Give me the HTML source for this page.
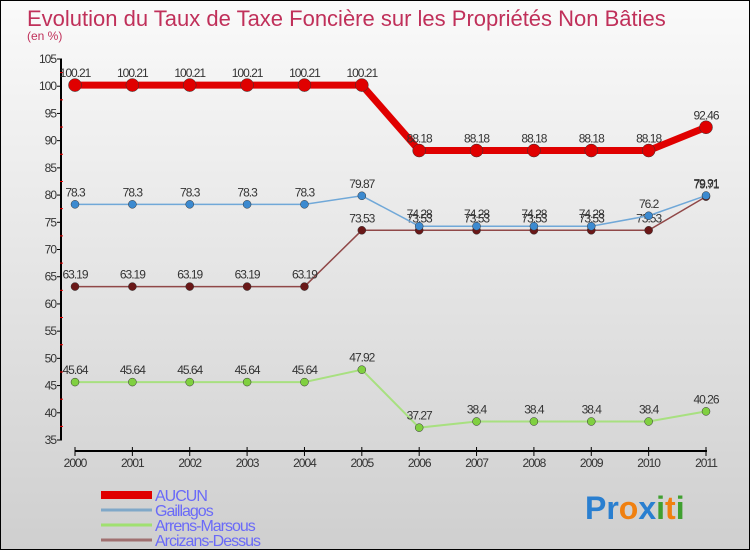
<!DOCTYPE html>
<html><head><meta charset="utf-8"><style>
html,body{margin:0;padding:0}
body{width:750px;height:550px;overflow:hidden;font-family:"Liberation Sans",sans-serif}
#wrap{position:relative;width:748px;height:548px;border:1px solid #000;background:linear-gradient(#fafafa,#cfcfcf)}
</style></head><body>
<div id="wrap">
<svg id="chart" width="748" height="548">
<text x="26" y="25" font-size="22" fill="#c0305a">Evolution du Taux de Taxe Foncière sur les Propriétés Non Bâties</text>
<text x="26" y="39" font-size="12" fill="#c0305a">(en %)</text>
<g id="axes"></g><g id="series"></g><g id="legend"></g>
<text x="584" y="518" font-size="32" font-weight="bold"><tspan fill="#2a7fd0">Pr</tspan><tspan fill="#f08010">o</tspan><tspan fill="#2a7fd0">x</tspan><tspan fill="#40a030">i</tspan><tspan fill="#f08010">t</tspan><tspan fill="#40a030">i</tspan></text>
</svg></div>
<script>
const years=[2000,2001,2002,2003,2004,2005,2006,2007,2008,2009,2010,2011];
const aucun=[100.21,100.21,100.21,100.21,100.21,100.21,88.18,88.18,88.18,88.18,88.18,92.46];
const gaillagos=[78.3,78.3,78.3,78.3,78.3,79.87,74.28,74.28,74.28,74.28,76.2,79.91];
const arrens=[45.64,45.64,45.64,45.64,45.64,47.92,37.27,38.4,38.4,38.4,38.4,40.26];
const arcizans=[63.19,63.19,63.19,63.19,63.19,73.53,73.53,73.53,73.53,73.53,73.53,79.71];
const yTicks=[35,40,45,50,55,60,65,70,75,80,85,90,95,100,105];
const NS="http://www.w3.org/2000/svg";
const xs=i=>74+i*(631/(years.length-1));
const ys=v=>439-(v-35)*(381/70);
function mk(tag,attrs,parent,text){const e=document.createElementNS(NS,tag);for(const k in attrs)e.setAttribute(k,attrs[k]);if(text!==undefined)e.textContent=text;parent.appendChild(e);return e;}
const ax=document.getElementById('axes');
let yl=mk('line',{x1:60,y1:ys(105),x2:60,y2:ys(35),stroke:'#000','stroke-width':2},ax);


yTicks.forEach((t,i)=>{
 mk('line',{x1:56,y1:ys(t),x2:61,y2:ys(t),stroke:'#000'},ax);
 if(i<yTicks.length-1)mk('line',{x1:59,y1:ys(t+2.5),x2:62,y2:ys(t+2.5),stroke:'#e00'},ax);
 const tx=mk('text',{x:55,y:ys(t)+4,'font-size':12,fill:'#333','text-anchor':'end','letter-spacing':'-1'},ax,t);
 
 
});
let xl=mk('line',{x1:74,y1:450,x2:706,y2:450,stroke:'#000','stroke-width':2},ax);


years.forEach((y,i)=>{
 mk('line',{x1:xs(i),y1:446,x2:xs(i),y2:455,stroke:'#000'},ax);
 const tx=mk('text',{x:xs(i),y:466,'font-size':12,fill:'#333','text-anchor':'middle','letter-spacing':'-1'},ax,y);
 
 
});
const sg=document.getElementById('series');
function series(vals,name,color,dot,w,r){
 const g=mk('g',{},sg);
 
 
 const l=mk('polyline',{points:vals.map((v,i)=>xs(i)+','+ys(v)).join(' '),fill:'none',stroke:color,'stroke-width':w},g);
 
 
 vals.forEach((v,i)=>{
  const c=mk('circle',{cx:xs(i),cy:ys(v),r:r,fill:dot,stroke:'#333','stroke-width':0.5},g);
  
  
  const t=mk('text',{x:xs(i),y:ys(v)-8,'font-size':12,fill:'#333','text-anchor':'middle','letter-spacing':'-1'},g,v);
  
  
 });
}
series(arrens,'arrens-marsous','#a8e080','#80d040',2,4);
series(arcizans,'arcizans-dessus','#904848','#6a1818',1.5,4);
series(gaillagos,'gaillagos','#70a8d8','#3c8ad0',1.5,4);
series(aucun,'aucun','#e00000','#e00000',7,6.5);
const lg=document.getElementById('legend');
const items=[['AUCUN','#e00000',8],['Gaillagos','#80a8c8',3],['Arrens-Marsous','#a0e070',3],['Arcizans-Dessus','#a07070',3]];
items.forEach((it,i)=>{
 const y=497+i*15;
 const g=mk('g',{},lg);
 
 
 mk('line',{x1:100,y1:y-3,x2:151,y2:y-3,stroke:it[1],'stroke-width':it[2]},g);
 mk('text',{x:154,y:y+3,'font-size':16,fill:'#6a6af8','letter-spacing':'-1'},g,it[0]);
});
</script>
</body></html>
